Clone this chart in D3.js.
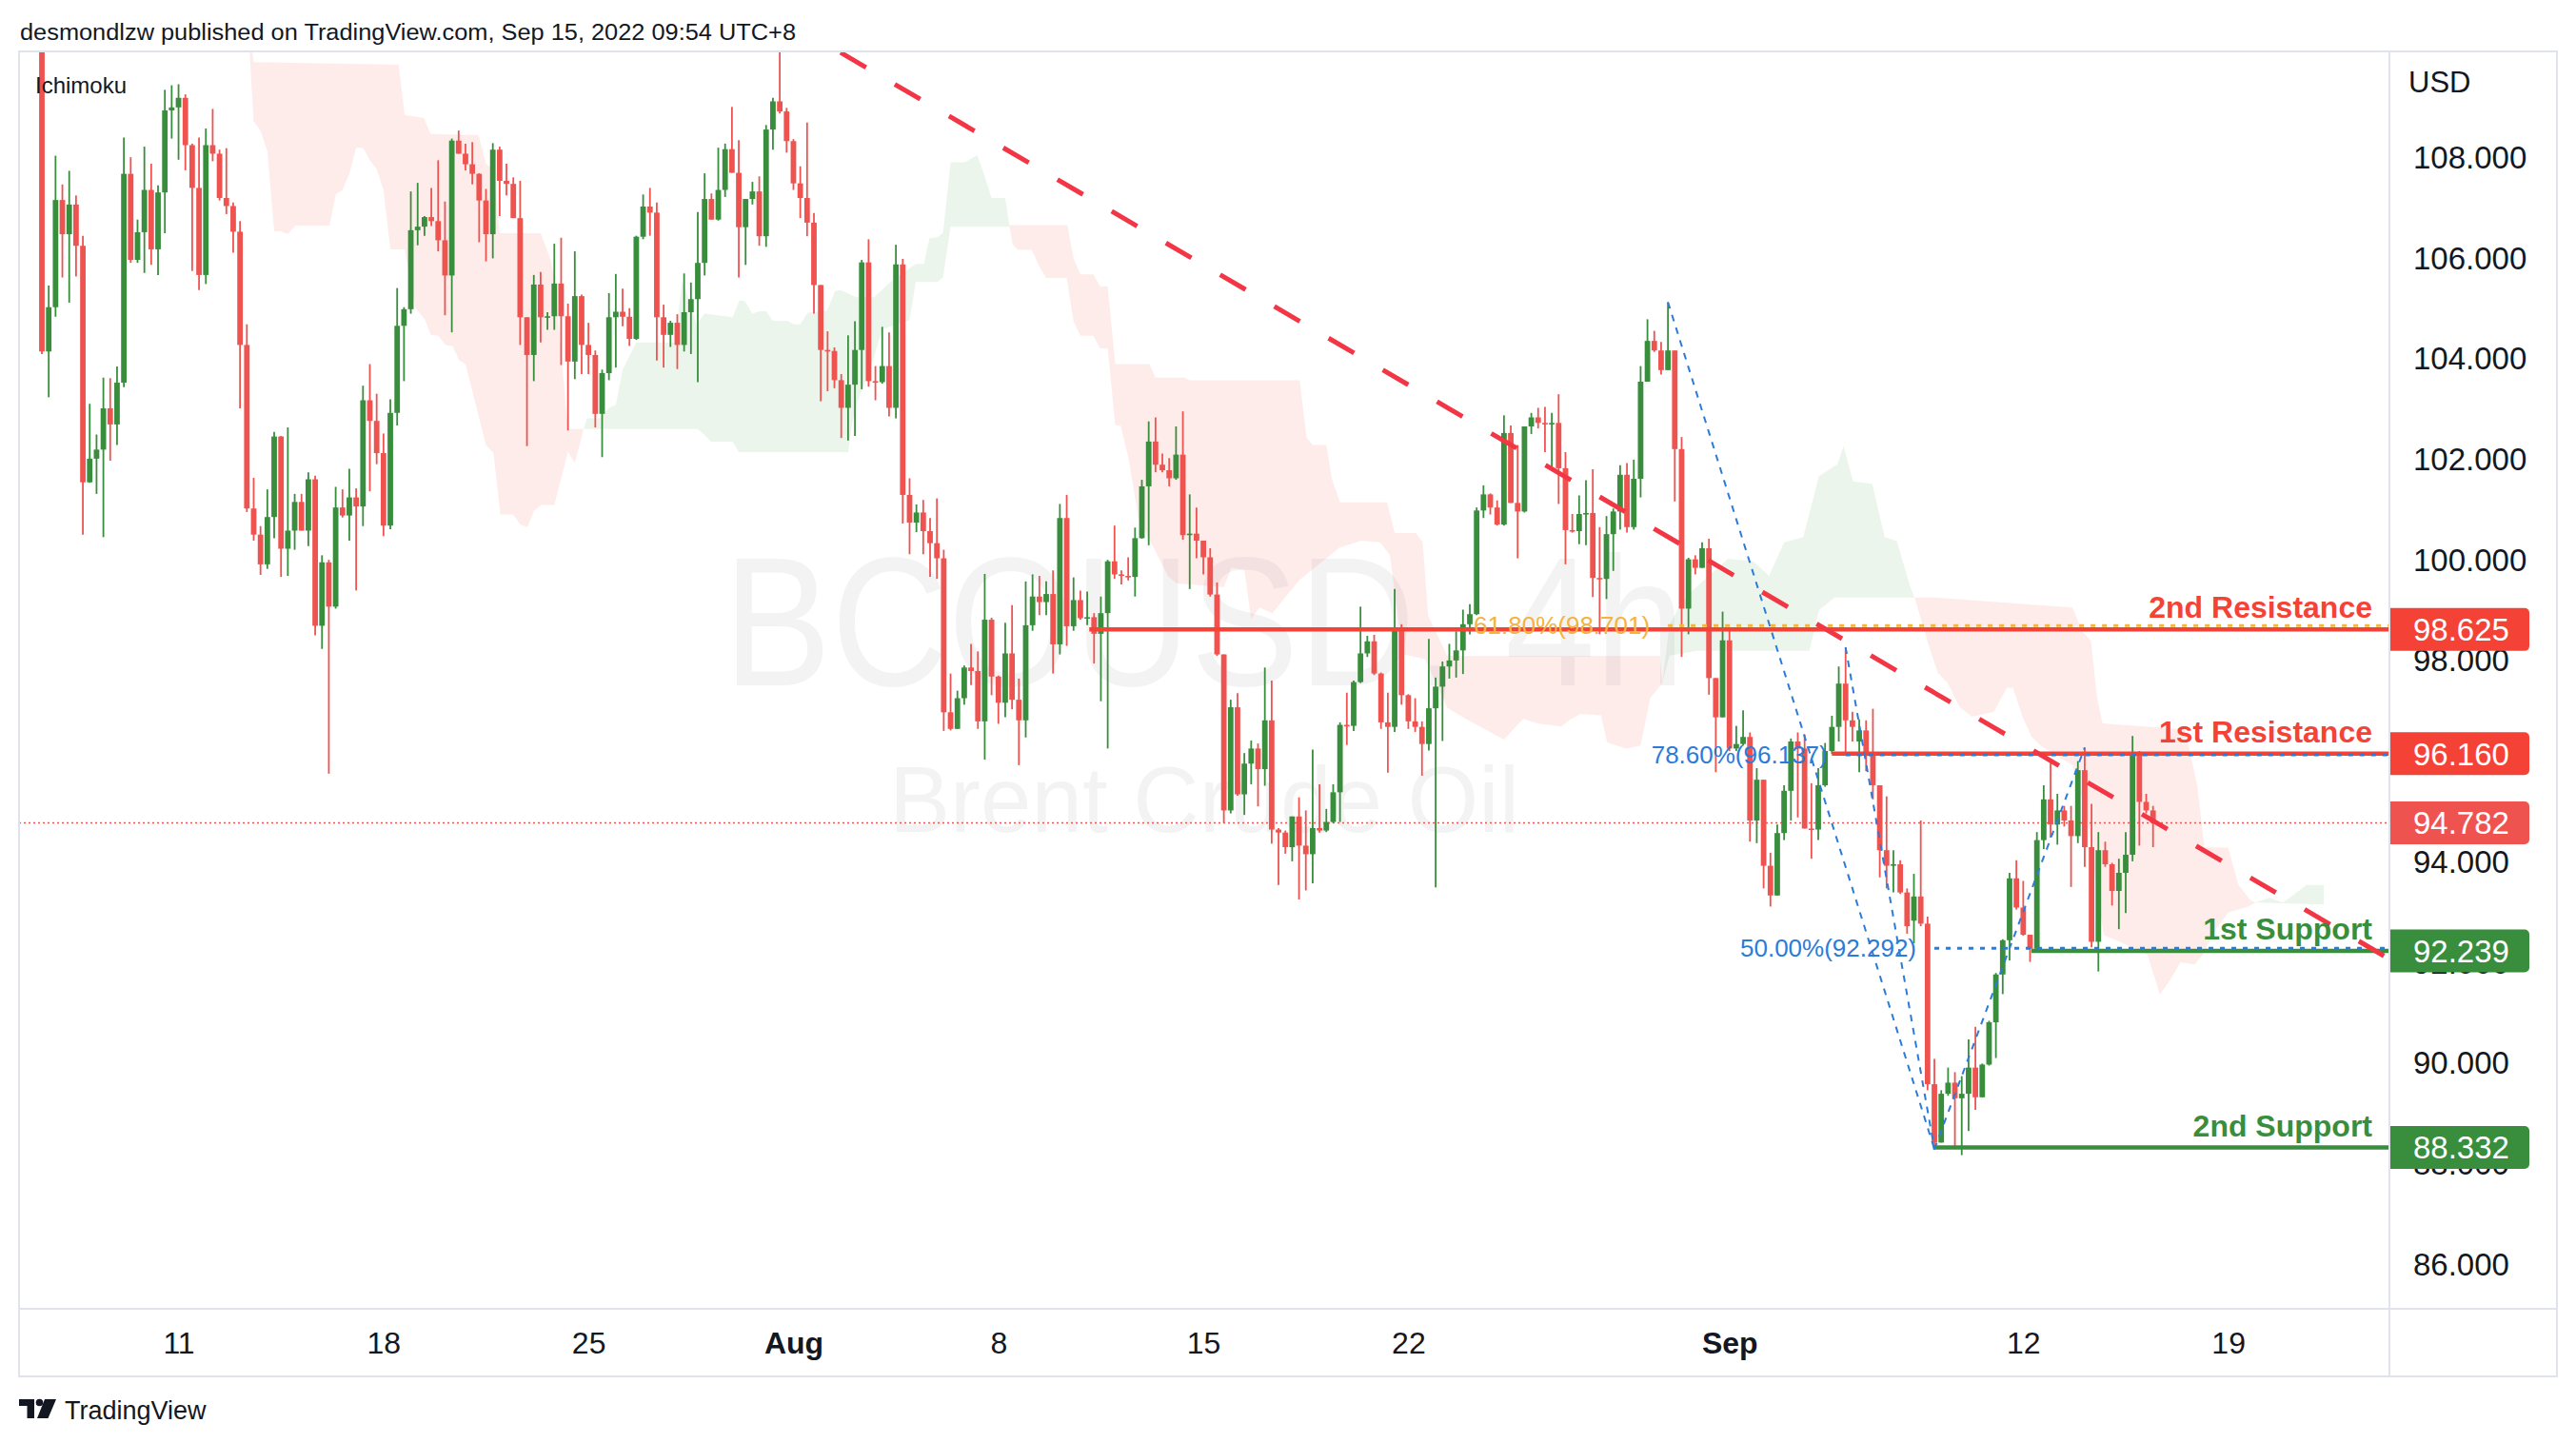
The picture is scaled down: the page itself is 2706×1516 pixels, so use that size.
<!DOCTYPE html>
<html>
<head>
<meta charset="utf-8">
<script src="https://d3js.org/d3.v7.min.js"></script>
<style>
  html, body { margin: 0; padding: 0; background: #ffffff; }
  svg { display: block; }
</style>
</head>
<body>
<div class="svg-container"></div>
<script>
// 4h candles, first visible bar = index 0
const opens = [
  110.6,104.15,105.03,107.16,106.48,107.07,106.25,101.55,102.02,102.2,
  103.02,102.7,103.53,107.68,105.97,106.52,107.36,106.18,107.31,108.94,
  109.0,109.19,108.25,107.4,105.67,108.25,108.08,107.2,107.04,106.53,
  104.28,101.03,100.51,99.92,100.86,102.46,100.23,100.59,101.16,100.59,
  101.61,98.7,99.96,99.08,101.05,100.89,101.25,101.07,103.18,102.77,
  102.13,100.69,102.93,104.66,104.99,106.56,106.63,106.82,106.74,106.36,
  105.66,108.34,108.08,107.87,107.68,107.15,106.48,108.16,107.54,107.48,
  106.8,104.83,104.08,105.48,104.83,104.85,105.5,104.85,103.95,105.25,
  104.28,104.08,102.91,103.72,104.83,104.94,104.84,104.4,106.43,107.03,
  106.91,104.83,104.48,104.72,104.28,104.93,105.19,105.91,107.18,106.77,
  107.36,108.17,107.7,106.62,107.18,107.33,106.44,108.56,109.12,108.92,
  108.33,107.49,107.2,106.71,105.47,104.18,104.16,103.58,103.03,103.49,
  104.18,105.92,103.56,103.54,103.86,103.03,105.88,101.3,100.75,100.95,
  100.58,100.34,100.04,96.98,96.65,97.26,97.87,97.8,96.8,98.82,
  97.69,97.17,98.15,97.23,96.82,98.71,99.28,99.17,99.33,98.33,
  100.84,98.69,99.21,98.85,98.87,98.54,98.95,99.98,99.72,99.69,
  99.67,100.44,101.47,102.36,101.9,101.79,101.63,102.1,100.5,100.53,
  100.39,100.06,99.32,98.13,95.03,97.08,95.35,95.96,96.26,95.85,
  96.82,94.65,94.59,94.3,94.91,94.33,94.16,94.68,94.63,94.8,
  95.39,96.73,96.71,97.58,98.15,98.39,97.75,96.78,96.69,98.67,
  97.32,96.8,96.69,96.35,97.06,97.49,97.89,98.01,98.21,98.73,
  98.93,100.99,101.31,101.05,100.71,102.53,101.14,100.97,102.66,102.84,
  102.73,102.71,102.73,101.83,100.6,100.58,100.92,100.94,99.65,99.63,
  100.52,100.97,101.7,100.66,101.62,103.55,104.36,104.17,103.78,104.17,
  102.21,99.04,100.02,99.85,100.24,97.66,96.88,98.41,96.26,96.35,
  96.49,94.83,95.64,93.93,93.34,94.58,95.42,96.4,96.26,94.67,
  94.65,95.53,96.21,96.69,97.55,96.82,96.4,96.62,96.15,95.53,
  94.24,93.93,93.96,93.4,92.84,93.32,92.78,89.59,88.43,89.4,
  89.62,89.31,89.4,89.92,89.33,89.98,90.82,91.77,92.45,93.68,
  93.1,92.56,92.28,94.44,95.25,94.75,95.03,94.83,94.52,95.83,
  94.3,92.42,94.24,93.96,93.43,93.79,94.15,96.17,95.2,95.03
];
const highs = [
  110.8,105.46,108.04,107.47,107.74,107.25,106.45,103.11,102.5,103.63,
  103.62,103.85,108.4,108.01,106.77,108.22,107.88,107.45,109.35,109.44,
  109.46,109.26,108.28,108.4,108.58,108.97,108.16,108.19,107.11,106.74,
  104.69,101.64,100.68,101.41,102.55,102.47,102.64,101.32,101.32,101.75,
  101.68,100.1,100.01,101.46,101.41,101.82,101.43,103.47,103.9,103.31,
  102.52,103.2,105.41,105.03,107.33,107.5,106.84,107.4,107.95,107.13,
  108.38,108.54,108.28,108.31,107.69,107.38,108.29,108.22,107.88,107.61,
  107.54,104.83,105.67,105.73,104.93,106.29,106.41,105.1,106.14,105.28,
  104.72,104.17,103.79,105.31,105.69,105.4,105.01,106.45,107.27,107.4,
  107.11,105.08,104.76,104.89,105.7,105.52,106.92,107.69,107.29,108.2,
  108.28,109.01,108.35,107.18,107.52,107.63,108.65,109.19,110.2,108.99,
  108.37,107.83,108.7,106.9,105.47,104.55,104.23,103.7,104.47,104.75,
  105.97,106.38,103.86,104.64,104.53,106.27,105.99,101.63,101.11,101.2,
  100.84,101.23,100.21,97.75,97.41,97.91,98.34,98.19,99.73,98.86,
  97.71,98.76,99.11,97.65,99.58,99.72,99.69,99.58,99.8,101.12,
  101.3,99.66,99.4,99.38,98.95,99.28,100.01,100.69,99.8,100.06,
  100.65,101.6,102.76,102.84,102.12,102.03,102.66,102.96,101.31,101.05,
  100.39,100.24,99.56,98.13,97.23,97.36,96.17,96.42,96.36,97.87,
  97.61,94.68,94.63,94.91,95.29,95.03,96.24,95.55,95.06,95.55,
  96.78,97.37,97.61,99.08,98.5,98.52,97.77,97.37,99.43,98.73,
  97.34,97.26,96.8,98.44,97.67,97.99,98.34,98.59,99.02,99.13,
  101.05,101.49,101.33,101.19,102.88,102.68,102.29,102.66,102.93,103.03,
  103.05,102.93,103.3,102.15,100.92,101.29,101.59,101.81,100.66,100.88,
  101.03,101.89,101.93,102.0,103.86,104.79,104.56,104.34,105.13,104.17,
  102.45,100.05,100.1,100.36,100.43,97.66,98.98,98.67,96.71,97.02,
  96.58,95.87,95.64,94.19,94.75,95.53,96.46,96.58,96.54,95.57,
  95.87,96.37,96.91,97.89,98.27,96.99,96.84,96.82,97.05,95.53,
  95.31,94.24,94.04,93.48,93.77,94.83,92.92,90.09,89.47,89.92,
  89.83,89.75,90.48,90.73,90.0,90.85,91.8,92.47,93.79,94.04,
  93.63,92.56,94.6,95.53,95.98,95.36,95.12,95.12,96.01,96.28,
  95.16,94.6,94.41,93.99,94.07,94.6,96.51,96.21,95.36,95.12
];
const lows = [
  104.1,103.24,104.84,105.62,105.12,105.64,100.51,101.54,101.32,100.46,
  101.98,102.29,103.44,105.91,105.91,105.71,105.87,105.67,106.5,108.38,
  107.96,107.75,105.75,105.37,105.49,107.93,107.15,106.88,106.11,103.02,
  100.96,100.39,99.71,99.83,100.44,99.67,99.69,100.21,100.59,100.28,
  98.51,98.24,95.76,99.04,100.85,100.39,99.4,100.68,101.37,101.91,
  100.48,100.62,102.68,103.56,104.9,106.26,106.45,106.64,106.14,104.87,
  104.53,108.08,107.75,107.47,106.32,105.94,106.0,106.84,107.25,106.8,
  104.28,102.27,103.56,104.33,104.58,104.58,103.88,102.58,103.6,103.7,
  103.7,102.64,102.05,103.58,103.83,104.65,104.26,104.38,106.38,106.45,
  103.97,103.83,104.24,103.8,104.15,104.1,103.54,105.66,106.77,106.75,
  107.22,107.7,105.62,105.87,107.07,106.25,106.23,108.16,108.88,108.1,
  107.36,106.8,106.44,104.9,103.16,103.36,103.42,102.43,102.38,102.47,
  103.4,103.45,103.18,103.51,102.86,102.82,100.73,100.12,100.56,100.12,
  99.67,99.63,96.61,96.62,96.65,97.13,97.52,96.65,96.04,97.32,
  96.75,96.88,97.04,95.93,96.48,98.6,98.91,98.91,97.75,98.13,
  98.3,98.6,98.82,98.71,97.95,97.2,96.26,99.63,99.52,99.6,
  99.28,100.43,100.3,101.75,101.75,101.47,101.6,100.41,99.43,100.04,
  99.72,99.28,98.1,94.78,94.97,95.32,94.94,95.55,95.11,95.52,
  94.37,93.55,94.17,94.02,93.26,93.44,93.58,94.59,94.6,94.78,
  94.8,96.33,96.61,97.56,98.08,97.72,96.65,95.78,96.59,97.13,
  96.65,96.59,95.72,96.22,93.5,96.41,97.65,97.67,97.74,98.53,
  98.91,100.84,100.91,100.69,100.69,101.14,100.04,100.95,102.51,102.62,
  102.15,101.83,101.12,99.92,100.55,100.32,100.3,99.27,98.53,99.23,
  99.79,100.61,100.55,100.61,101.25,103.55,104.14,103.69,103.78,101.17,
  98.08,98.53,99.72,99.85,97.33,95.79,96.88,96.21,96.21,96.32,
  94.41,94.38,93.48,93.12,93.34,94.44,94.83,94.89,94.67,94.07,
  94.44,95.5,96.15,96.4,96.17,96.4,95.79,95.81,95.25,93.7,
  93.48,93.4,93.37,92.58,92.39,92.73,89.47,88.3,88.43,89.36,
  88.3,88.18,88.66,89.08,89.33,89.96,90.11,91.38,92.05,93.06,
  92.54,92.02,92.28,94.26,94.49,94.35,94.71,93.51,94.38,93.91,
  92.31,91.83,93.91,93.14,92.67,92.99,94.02,94.33,94.97,94.3
];
const closes = [
  104.15,105.03,107.16,106.48,107.07,106.25,101.55,102.02,102.2,103.02,
  102.7,103.53,107.68,105.97,106.52,107.36,106.18,107.31,108.94,109.0,
  109.19,108.25,107.4,105.67,108.25,108.08,107.2,107.04,106.53,104.28,
  101.03,100.51,99.92,100.86,102.46,100.23,100.59,101.16,100.59,101.61,
  98.7,99.96,99.08,101.05,100.89,101.25,101.07,103.18,102.77,102.13,
  100.69,102.93,104.66,104.99,106.56,106.63,106.82,106.74,106.36,105.66,
  108.34,108.08,107.87,107.68,107.15,106.48,108.16,107.54,107.48,106.8,
  104.83,104.08,105.48,104.83,104.85,105.5,104.85,103.95,105.25,104.28,
  104.08,102.91,103.72,104.83,104.94,104.84,104.4,106.43,107.03,106.91,
  104.83,104.48,104.72,104.28,104.93,105.19,105.91,107.18,106.77,107.36,
  108.17,107.7,106.62,107.18,107.33,106.44,108.56,109.12,108.92,108.33,
  107.49,107.2,106.71,105.47,104.18,104.16,103.58,103.03,103.49,104.18,
  105.92,103.56,103.54,103.86,103.03,105.88,101.3,100.75,100.95,100.58,
  100.34,100.04,96.98,96.65,97.26,97.87,97.8,96.8,98.82,97.69,
  97.17,98.15,97.23,96.82,98.71,99.28,99.17,99.33,98.33,100.84,
  98.69,99.21,98.85,98.87,98.54,98.95,99.98,99.72,99.69,99.67,
  100.44,101.47,102.36,101.9,101.79,101.63,102.1,100.5,100.53,100.39,
  100.06,99.32,98.13,95.03,97.08,95.35,95.96,96.26,95.85,96.82,
  94.65,94.59,94.3,94.91,94.33,94.16,94.68,94.63,94.8,95.39,
  96.73,96.71,97.58,98.15,98.39,97.75,96.78,96.69,98.67,97.32,
  96.8,96.69,96.35,97.06,97.49,97.89,98.01,98.21,98.73,98.93,
  100.99,101.31,101.05,100.71,102.53,101.14,100.97,102.66,102.84,102.73,
  102.71,102.73,101.83,100.6,100.58,100.92,100.94,99.65,99.63,100.52,
  100.97,101.7,100.66,101.62,103.55,104.36,104.17,103.78,104.17,102.21,
  99.04,100.02,99.85,100.24,97.66,96.88,98.41,96.26,96.35,96.49,
  94.83,95.64,93.93,93.34,94.58,95.42,96.4,96.26,94.67,94.65,
  95.53,96.21,96.69,97.55,96.82,96.69,96.62,96.15,95.53,94.24,
  93.93,93.96,93.4,92.73,93.32,92.78,89.59,88.43,89.4,89.62,
  89.31,89.4,89.92,89.33,89.98,90.82,91.77,92.45,93.68,93.1,
  92.56,92.28,94.44,95.25,94.75,95.03,94.83,94.52,95.83,94.3,
  92.42,94.24,93.96,93.43,93.79,94.15,96.17,95.2,95.03,94.78
];

// time axis (bar index of the first bar of each labelled day)
const timeTickBars = [20, 50, 80, 110, 140, 170, 200, 247, 290, 320];
const timeTickLabels = ['11', '18', '25', 'Aug', '8', '15', '22', 'Sep', '12', '19'];
const monthLabels = ['Aug', 'Sep'];

// price axis
const priceTicks = [86, 88, 90, 92, 94, 96, 98, 100, 102, 104, 106, 108];

// ichimoku cloud, [bar, price] along upper and lower edge of each piece
const kumo1Upper = [[30.4,110.5],[31,109.9],[52.2,109.85],[53.1,108.85],[55.9,108.79],[56.9,108.47],[63.9,108.45],[65,107.88],[66.1,107.77],[67,106.5],[73,106.5],[74.4,106.0],[75,105.64],[77,102.61],[79.3,102.61]];
const kumo1Lower = [[30.4,110.1],[31,108.72],[32,108.54],[33,108.13],[34,106.54],[35,106.54],[36,106.48],[37.1,106.65],[42.1,106.65],[43,107.27],[44,107.36],[45,107.68],[46,108.2],[47,108.2],[48,107.95],[49,107.77],[50,107.36],[51,106.18],[53.1,106.18],[53.8,105.64],[54.7,105.01],[56.1,104.78],[56.9,104.48],[58,104.46],[59.1,104.28],[60.1,104.26],[61.1,103.97],[62,103.9],[65,102.29],[66.1,102.13],[67.1,100.91],[69,100.91],[70,100.71],[71.1,100.66],[72,100.98],[73.1,101.1],[75,101.1],[77,102.16],[78,101.93],[79.3,102.61]];
const kumo2Upper = [[79.3,102.61],[79.8,102.82],[81.6,102.82],[83,103.03],[84,103.09],[85,103.79],[87,104.33],[92.7,104.33],[93.7,105.55],[94.7,105.19],[95.8,104.69],[97,104.9],[101.1,104.83],[102.1,105.17],[102.9,105.15],[104,104.9],[105,104.95],[106,104.95],[107,104.76],[109.1,104.76],[110.1,104.69],[111,104.69],[112.1,104.92],[114.9,104.96],[116.1,105.35],[116.9,105.37],[119.2,105.23],[121.8,105.23],[124.1,105.52],[127.9,105.89],[129.1,105.89],[129.9,106.4],[131.1,106.42],[131.9,106.51],[133,107.91],[135.1,107.91],[136.9,108.05],[138,107.63],[139,107.2],[141,107.2],[141.6,106.66]];
const kumo2Lower = [[79.3,102.61],[96,102.61],[97,102.49],[97.9,102.36],[101.1,102.36],[102,102.15],[118,102.15],[118.6,102.73],[119.3,103.12],[121.6,103.96],[123,104.59],[127,104.77],[127.9,105.53],[131.1,105.53],[131.9,105.62],[133,106.63],[141.6,106.63]];
const kumo3Upper = [[141.6,106.66],[150.1,106.66],[151,106.0],[152,105.68],[153.9,105.68],[154.9,105.44],[156,105.44],[157.1,103.9],[162.1,103.9],[163,103.63],[167.2,103.63],[168,103.58],[184.1,103.58],[185.1,102.44],[186,102.29],[188,102.29],[188.8,101.62],[190,101.15],[196.9,101.15],[198,100.54],[201.1,100.54],[202.1,100.36],[202.9,98.9],[205.7,98.1],[236.8,98.1],[237.2,97.57]];
const kumo3Lower = [[141.6,106.66],[142.1,106.27],[142.9,106.17],[144.9,106.17],[146,105.84],[147,105.61],[150,105.61],[151,104.75],[152,104.46],[153.9,104.46],[154.9,104.21],[156,104.21],[157.1,102.69],[157.9,102.67],[159,102.06],[160.5,100.83],[163,100.18],[164.9,99.67],[166.1,99.54],[173,99.47],[174.1,99.85],[176,99.81],[177,98.84],[178.2,99.06],[180.1,98.95],[184,99.6],[189.9,100.25],[193.1,100.39],[195.9,100.36],[197.3,100.1],[199.2,98.13],[202.4,98.04],[205.7,97.07],[208.4,96.85],[214,96.44],[216.8,96.85],[218.9,96.76],[222.4,96.7],[223.5,96.82],[225.2,96.95],[228.2,96.92],[229.1,96.38],[231.9,96.26],[234,96.32],[235.4,97.26],[237.2,97.57]];
const kumo4Upper = [[237.2,97.57],[238.2,98.71],[240,99.16],[241.9,99.44],[246.8,100.03],[250.5,99.98],[252.8,99.69],[255,100.36],[257.8,100.46],[260.1,101.67],[262.8,101.91],[263.7,102.27],[265.1,101.57],[267.9,101.52],[269.7,100.46],[271.5,100.38],[273.4,99.5],[274.1,99.26]];
const kumo4Lower = [[237.2,97.57],[238.2,98.1],[242.2,98.2],[258.7,98.2],[260.1,99.01],[262.4,99.26],[274.1,99.26]];
const kumo5Upper = [[274.1,99.26],[277,99.26],[297.2,99.06],[298.6,98.6],[299.9,98.4],[300.8,97.28],[301.6,96.76],[313.7,96.64],[315.5,95.5],[316.5,94.3],[320,94.29],[321.5,93.55],[323.3,93.24],[324,93.2]];
const kumo5Lower = [[274.1,99.26],[276.1,98.34],[277.5,97.76],[278.9,97.57],[280.7,97.08],[282.5,96.89],[285.7,96.99],[287.6,97.47],[288.5,97.47],[289.9,96.89],[291.2,96.5],[292.6,96.31],[297.2,95.93],[299.5,94.77],[300.9,93.32],[301.8,92.55],[303.6,92.45],[308.2,92.16],[310,91.37],[311.6,91.68],[313,92.01],[315.1,91.97],[316.3,92.17],[318.2,92.67],[320,93.0],[322.9,93.12],[324,93.2]];
const kumo6Upper = [[324,93.2],[326,93.3],[328,93.2],[331.5,93.55],[334,93.55]];
const kumo6Lower = [[324,93.2],[334,93.16]];

// support / resistance
const levelNames = ['2nd Resistance', '1st Resistance', '1st Support', '2nd Support'];
const levelPrices = [98.625, 96.16, 92.239, 88.332];
const levelStartBars = [153.3, 262, 291.2, 276.8];
const levelIsSupport = [false, false, true, true];

// fibonacci tools: anchors and the one level shown for each
const fibAnchorsA = [[238, 105.13], [277, 88.3]];
const fibAnchorsB = [[264, 98.27], [277, 88.3]];
const fibAnchorsC = [[277, 88.3], [299, 96.28]];
const fibLabels = ['61.80%(98.701)', '78.60%(96.137)', '50.00%(92.292)'];
const fibPrices = [98.701, 96.137, 92.292];

// descending trend line
const trendAnchors = [[116.9, 110.09], [342.8, 92.14]];

const lastPrice = 94.782;

// ---------------------------------------------------------------
const width = 2706;
const height = 1516;
const plot = { left: 20, right: 2510, top: 54, bottom: 1375 };
const frameRight = 2686;
const frameBottom = 1446;

const upColor = '#388e3c';
const downColor = '#ef5350';
const resColor = '#f44336';
const supColor = '#388e3c';
const trendColor = '#f23645';
const fibBlue = '#2b7bd9';
const fibOrange = '#f5b340';
const textColor = '#131722';
const frameColor = '#e0e3eb';
const font = '"Liberation Sans", Arial, Helvetica, sans-serif';

const svg = d3.select('.svg-container')
  .append('svg')
  .attr('width', width)
  .attr('height', height)
  .style('font-family', font);

svg.append('rect').attr('width', width).attr('height', height).attr('fill', '#ffffff');

const x = d3.scaleLinear().domain([0, 309]).range([44, 44 + 309 * 7.177]);
const y = d3.scaleLinear().domain([108, 86]).range([165.7, 165.7 + 22 * 52.87]);

svg.append('clipPath').attr('id', 'plot-clip')
  .append('rect')
  .attr('x', plot.left).attr('y', plot.top)
  .attr('width', plot.right - plot.left).attr('height', plot.bottom - plot.top);

const chart = svg.append('g').attr('clip-path', 'url(#plot-clip)');

// watermark
const midX = (plot.left + plot.right) / 2;
chart.append('text')
  .attr('x', midX).attr('y', 720)
  .attr('text-anchor', 'middle')
  .attr('font-size', 193)
  .attr('fill', '#787b86').attr('fill-opacity', 0.09)
  .attr('textLength', 1010).attr('lengthAdjust', 'spacingAndGlyphs')
  .text('BCOUSD, 4h');
chart.append('text')
  .attr('x', midX).attr('y', 874)
  .attr('text-anchor', 'middle')
  .attr('font-size', 98)
  .attr('fill', '#787b86').attr('fill-opacity', 0.09)
  .attr('textLength', 662).attr('lengthAdjust', 'spacingAndGlyphs')
  .text('Brent Crude Oil');

// ichimoku cloud
const poly = d3.line().x(d => x(d[0])).y(d => y(d[1]));
const kumo = [
  { upper: kumo1Upper, lower: kumo1Lower, bull: false },
  { upper: kumo2Upper, lower: kumo2Lower, bull: true },
  { upper: kumo3Upper, lower: kumo3Lower, bull: false },
  { upper: kumo4Upper, lower: kumo4Lower, bull: true },
  { upper: kumo5Upper, lower: kumo5Lower, bull: false },
  { upper: kumo6Upper, lower: kumo6Lower, bull: true }
];
chart.append('g').selectAll('path')
  .data(kumo)
  .join('path')
  .attr('d', k => poly(k.upper.concat(k.lower.slice().reverse())) + 'Z')
  .attr('fill', k => k.bull ? '#43a047' : '#f44336')
  .attr('fill-opacity', 0.1);

// last price line
chart.append('line')
  .attr('x1', plot.left).attr('x2', plot.right)
  .attr('y1', y(lastPrice)).attr('y2', y(lastPrice))
  .attr('stroke', downColor).attr('stroke-width', 1.5)
  .attr('stroke-dasharray', '2 3');

// candles
const bars = d3.range(closes.length);
const isUp = i => closes[i] >= opens[i];
const bodyW = 5.8;

chart.append('g').selectAll('line')
  .data(bars)
  .join('line')
  .attr('x1', i => x(i)).attr('x2', i => x(i))
  .attr('y1', i => y(highs[i])).attr('y2', i => y(lows[i]))
  .attr('stroke', i => isUp(i) ? upColor : downColor)
  .attr('stroke-width', 1.8);

chart.append('g').selectAll('rect')
  .data(bars)
  .join('rect')
  .attr('x', i => x(i) - bodyW / 2)
  .attr('width', bodyW)
  .attr('y', i => y(Math.max(opens[i], closes[i])))
  .attr('height', i => Math.max(1.6, Math.abs(y(opens[i]) - y(closes[i]))))
  .attr('fill', i => isUp(i) ? upColor : downColor);

// support / resistance lines
chart.append('g').selectAll('line')
  .data(levelPrices)
  .join('line')
  .attr('x1', (p, i) => x(levelStartBars[i]))
  .attr('x2', plot.right)
  .attr('y1', p => y(p)).attr('y2', p => y(p))
  .attr('stroke', (p, i) => levelIsSupport[i] ? supColor : resColor)
  .attr('stroke-width', 4.5);

// fibonacci levels, labels and diagonals
const fibs = [fibAnchorsA, fibAnchorsB, fibAnchorsC];
const fibColors = [fibOrange, fibBlue, fibBlue];
const fibStart = f => d3.min(f, d => d[0]);

chart.append('g').selectAll('line')
  .data(fibs)
  .join('line')
  .attr('x1', f => x(fibStart(f)))
  .attr('x2', plot.right)
  .attr('y1', (f, i) => y(fibPrices[i])).attr('y2', (f, i) => y(fibPrices[i]))
  .attr('stroke', (f, i) => fibColors[i])
  .attr('stroke-width', 3)
  .attr('stroke-dasharray', '5 7');

chart.append('g').selectAll('text')
  .data(fibs)
  .join('text')
  .attr('x', f => x(fibStart(f)) - 19)
  .attr('y', (f, i) => y(fibPrices[i]))
  .attr('dy', '0.35em')
  .attr('text-anchor', 'end')
  .attr('font-size', 26)
  .attr('fill', (f, i) => fibColors[i])
  .text((f, i) => fibLabels[i]);

chart.append('g').selectAll('path')
  .data(fibs)
  .join('path')
  .attr('d', f => poly(f))
  .attr('fill', 'none')
  .attr('stroke', fibBlue)
  .attr('stroke-width', 2)
  .attr('stroke-dasharray', '7 7');

// trend line
chart.append('path')
  .attr('d', poly(trendAnchors))
  .attr('fill', 'none')
  .attr('stroke', trendColor)
  .attr('stroke-width', 5)
  .attr('stroke-dasharray', '31 35');

// level labels
chart.append('g').selectAll('text')
  .data(levelNames)
  .join('text')
  .attr('x', 2492)
  .attr('y', (d, i) => y(levelPrices[i]) - 12)
  .attr('text-anchor', 'end')
  .attr('font-size', 32)
  .attr('font-weight', 'bold')
  .attr('fill', (d, i) => levelIsSupport[i] ? supColor : resColor)
  .text(d => d);

// frame
const frame = svg.append('g').attr('stroke', frameColor).attr('stroke-width', 2).attr('fill', 'none');
frame.append('rect')
  .attr('x', plot.left).attr('y', plot.top)
  .attr('width', frameRight - plot.left).attr('height', frameBottom - plot.top);
frame.append('line').attr('x1', plot.left).attr('x2', frameRight).attr('y1', plot.bottom).attr('y2', plot.bottom);
frame.append('line').attr('x1', plot.right).attr('x2', plot.right).attr('y1', plot.top).attr('y2', frameBottom);

// price axis
const yAxis = d3.axisRight(y)
  .tickValues(priceTicks)
  .tickFormat(d3.format('.3f'))
  .tickSize(0)
  .tickPadding(25);
svg.append('g')
  .attr('transform', `translate(${plot.right},0)`)
  .call(yAxis)
  .call(g => g.select('.domain').remove())
  .attr('font-family', font)
  .attr('font-size', 33)
  .selectAll('text').attr('fill', textColor);

// time axis
const xAxis = d3.axisBottom(x)
  .tickValues(timeTickBars)
  .tickFormat((d, i) => timeTickLabels[i])
  .tickSize(0)
  .tickPadding(24);
svg.append('g')
  .attr('transform', `translate(0,${plot.bottom})`)
  .call(xAxis)
  .call(g => g.select('.domain').remove())
  .attr('font-family', font)
  .attr('font-size', 32)
  .selectAll('text')
  .attr('fill', textColor)
  .attr('font-weight', d => monthLabels.includes(timeTickLabels[timeTickBars.indexOf(d)]) ? 'bold' : 'normal');

// price labels on the axis
const boxPrices = levelPrices.slice(0, 2).concat([lastPrice], levelPrices.slice(2));
const boxColors = [resColor, resColor, downColor, supColor, supColor];
const boxW = 146, boxH = 45, r = 5;
const boxPath = yc => {
  const x0 = plot.right + 1, x1 = x0 + boxW, t = yc - boxH / 2, b = yc + boxH / 2;
  return `M${x0},${t}H${x1 - r}A${r},${r} 0 0 1 ${x1},${t + r}V${b - r}A${r},${r} 0 0 1 ${x1 - r},${b}H${x0}Z`;
};
const boxes = svg.append('g').selectAll('g')
  .data(boxPrices)
  .join('g');
boxes.append('path')
  .attr('d', p => boxPath(y(p)))
  .attr('fill', (p, i) => boxColors[i]);
boxes.append('text')
  .attr('x', 2535)
  .attr('y', p => y(p))
  .attr('dy', '0.36em')
  .attr('font-size', 33)
  .attr('fill', '#ffffff')
  .text(p => d3.format('.3f')(p));

svg.append('text')
  .attr('x', 2530).attr('y', 97)
  .attr('font-size', 31)
  .attr('fill', textColor)
  .text('USD');

// header, indicator name, footer
svg.append('text')
  .attr('x', 21).attr('y', 42)
  .attr('font-size', 23)
  .attr('fill', textColor)
  .attr('textLength', 815).attr('lengthAdjust', 'spacingAndGlyphs')
  .text('desmondlzw published on TradingView.com, Sep 15, 2022 09:54 UTC+8');

svg.append('text')
  .attr('x', 37).attr('y', 98)
  .attr('font-size', 24)
  .attr('fill', textColor)
  .text('Ichimoku');

const logo = svg.append('g').attr('fill', textColor);
logo.append('path').attr('d', 'M20,1470H36V1490H28.5V1477H20Z');
logo.append('circle').attr('cx', 41.5).attr('cy', 1473.5).attr('r', 3.8);
logo.append('path').attr('d', 'M47,1470H59L50.5,1490H39Z');
svg.append('text')
  .attr('x', 68).attr('y', 1491)
  .attr('font-size', 27)
  .attr('fill', textColor)
  .text('TradingView');
</script>
</body>
</html>
